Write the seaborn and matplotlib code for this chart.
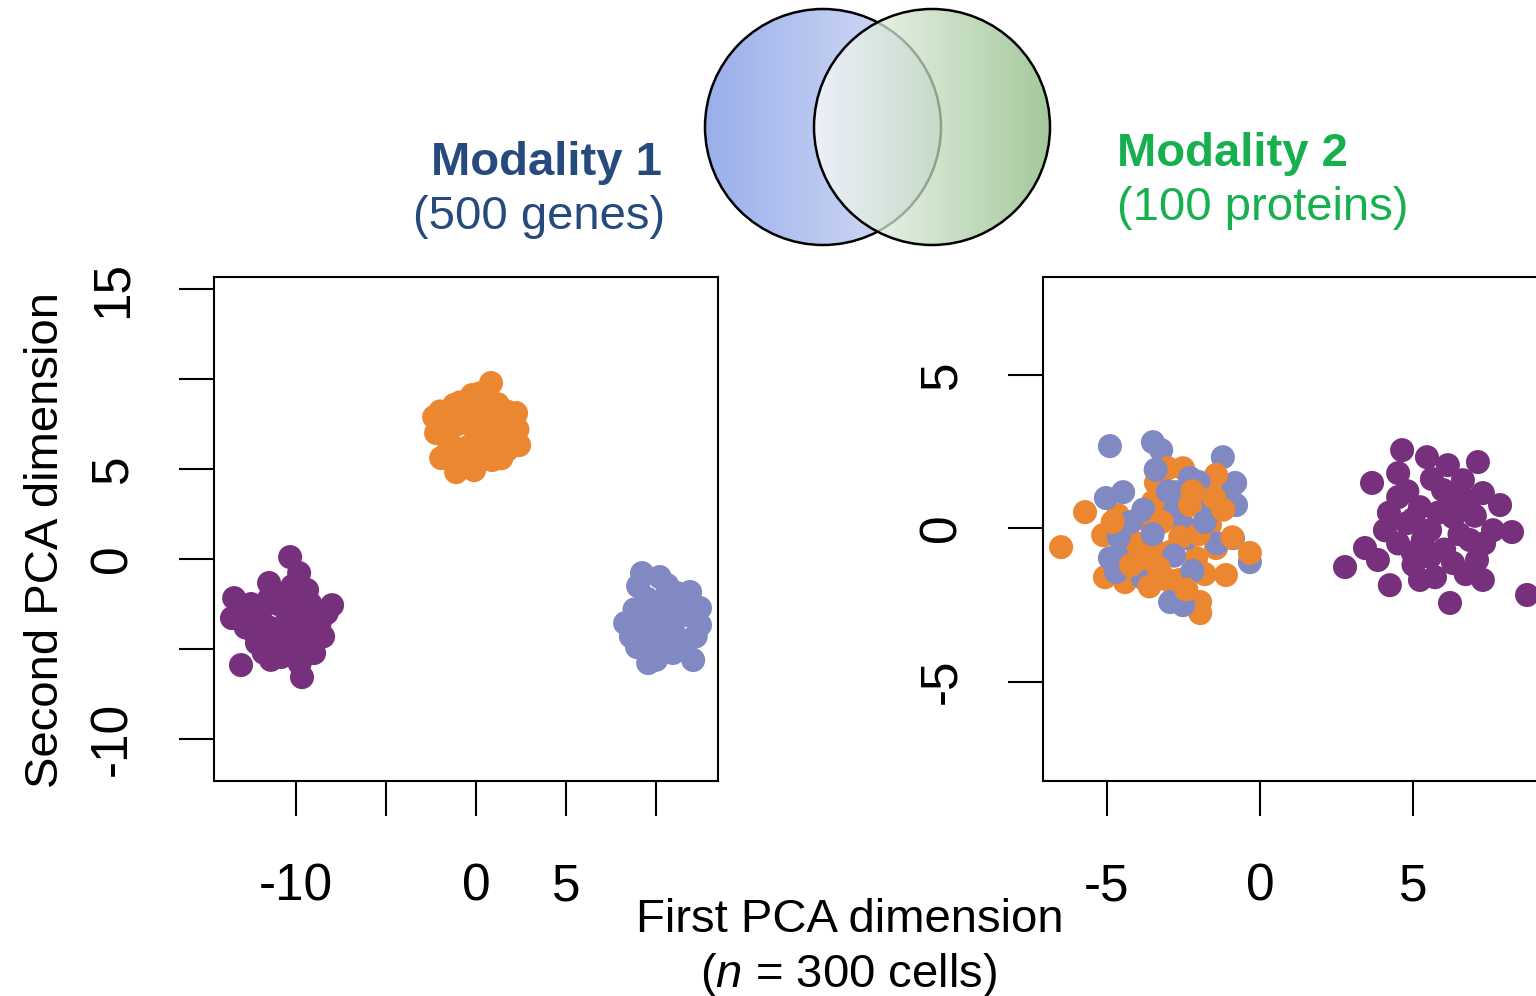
import numpy as np
import pandas as pd
import matplotlib
matplotlib.use("Agg")
import matplotlib.pyplot as plt
import seaborn as sns
from matplotlib.patches import Circle
from matplotlib.colors import to_rgb

# ---------------- data ----------------
# Modality 1 (500 genes) – first / second PCA dimension
m1_purple_x = [-10.33, -9.83, -11.5, -13.44, -13.56, -8.0, -13.06, -9.67, -10.83, -9.0, -12.17, -9.39,
               -11.0, -10.0, -11.5, -10.5, -9.5, -12.0, -10.8, -9.2, -8.7, -12.5, -11.2, -10.0, -8.5,
               -10.2, -12.8, -9.8, -11.8,
               -11.5, -12.6, -11.0, -9.2, -10.4, -10.6, -11.8, -9.6, -8.3, -12.3, -10.0, -11.4, -9.3, -13.0]
m1_purple_y = [0.11, -0.78, -1.33, -2.17, -3.28, -2.56, -5.89, -6.56, -5.44, -5.22, -4.67, -1.72,
               -2.5, -3.0, -3.8, -4.2, -3.5, -3.0, -2.0, -2.5, -3.6, -2.5, -4.8, -4.8, -4.3,
               -1.5, -3.8, -5.8, -5.2,
               -2.2, -3.3, -4.2, -4.0, -5.3, -3.6, -4.2, -2.9, -3.0, -4.1, -2.0, -5.6, -5.0, -2.9]
m1_orange_x = [0.83, -0.22, -1.22, -2.33, 2.22, -2.22, 2.39, -1.94, -1.11, -0.11, 0.89, 1.72,
               0.0, -1.0, 1.0, -0.5, 0.5, 1.5, -1.5, 0.3, -0.8, 1.2, -0.3, 0.8, 2.0,
               -1.8, -0.9, 0.2, 1.7, 2.3, 1.4, -0.6, -1.6, 0.0, -2.0, 1.0, -0.2]
m1_orange_y = [9.78, 9.11, 8.56, 7.89, 8.11, 7.0, 6.33, 5.61, 4.83, 4.94, 5.5, 6.06,
               7.0, 7.5, 7.5, 6.2, 6.5, 7.0, 6.5, 8.3, 8.0, 8.6, 5.8, 6.0, 7.2,
               7.2, 8.7, 9.2, 8.2, 7.2, 5.6, 5.2, 5.9, 6.0, 8.2, 6.8, 7.6]
m1_blue_x = [9.22, 10.61, 11.89, 12.44, 8.28, 12.44, 8.94, 9.56, 12.06, 10.94,
             10.0, 11.0, 9.5, 11.5, 10.3, 9.2, 11.8, 10.5, 9.8, 11.2, 8.8,
             9.0, 10.2, 12.0, 11.4, 10.0, 8.6, 9.7, 10.9, 12.2, 11.0, 9.4, 10.5]
m1_blue_y = [-0.78, -1.44, -1.83, -2.72, -3.56, -3.67, -4.89, -5.78, -5.61, -5.22,
             -3.0, -3.5, -2.2, -2.8, -4.3, -3.8, -4.5, -2.2, -4.8, -1.9, -2.8,
             -1.5, -1.0, -3.2, -5.0, -5.6, -4.3, -3.2, -4.1, -4.3, -2.7, -4.5, -3.7]

# Modality 2 (100 proteins)
m2_blue_x = [-4.89, -3.49, -3.22, -1.21, -0.81, -0.78, -0.88, -0.33, -5.02, -4.46, -4.23, -4.89,
             -4.69, -3.81, -2.93, -2.51, -2.28, -2.74, -2.93, -2.08, -2.51, -2.41, -1.63, -4.46,
             -3.8, -3.0, -2.0, -4.2, -1.4, -2.8, -3.5, -1.8, -4.6, -1.0, -2.2, -3.4]
m2_blue_y = [2.67, 2.80, 2.54, 2.31, 1.47, 0.75, -0.33, -1.11, 0.98, 1.17, -0.55, -0.98,
             -1.43, -1.63, -2.41, -2.51, 1.63, 1.17, 0.65, 0.85, 0.10, -0.33, 0.52, -0.78,
             0.6, 1.2, 1.5, 0.2, -0.5, -0.9, -0.2, 0.2, -0.3, 1.1, -1.4, 1.9]
m2_orange_x = [-5.70, -6.48, -5.11, -3.39, -3.0, -2.51, -1.43, -4.63, -3.91, -5.05, -4.40, -3.0,
               -2.61, -1.95, -1.95, -1.11, -0.33, -3.49, -2.93, -2.08, -1.43, -1.63, -3.49, -2.28,
               -4.36, -3.81,
               -4.0, -3.2, -2.6, -2.0, -1.8, -3.3, -4.8, -2.2, -1.2, -0.9, -3.6, -2.4, -4.2, -1.5]
m2_orange_y = [0.52, -0.62, -0.23, 1.47, 1.95, 1.95, 1.73, 0.42, 0.33, -1.60, -1.76, -1.69,
               -1.69, -2.41, -2.77, -1.53, -0.81, -0.65, -0.78, -0.98, -0.65, 0.10, 0.85, 0.75,
               -0.23, -0.98,
               -0.5, 0.2, -0.3, -0.2, -1.5, -1.3, 0.2, 1.2, 0.6, -0.3, -1.9, -2.0, -1.2, 1.0]
m2_purple_x = [4.63, 5.44, 6.12, 7.10, 3.65, 4.50, 6.61, 7.26, 7.82, 8.21, 4.50, 4.07, 3.42, 2.77,
               3.84, 4.23, 5.21, 6.19, 5.70, 7.26, 7.07, 8.70, 4.98, 5.54, 6.29, 5.21, 5.96, 6.84,
               7.59, 4.79, 5.54, 6.29,
               5.0, 5.8, 6.5, 7.0, 6.0, 5.3, 4.5, 6.8, 5.6, 4.8, 7.3, 6.3, 5.0, 6.7, 4.2]
m2_purple_y = [2.54, 2.31, 2.05, 2.15, 1.47, 1.79, 1.56, 1.14, 0.75, -0.13, 1.01, -0.07, -0.65,
               -1.27, -1.04, -1.86, -1.69, -2.44, -1.60, -1.69, -1.04, -2.18, -0.81, -0.07, 0.36,
               0.68, 1.24, -0.39, -0.07, 0.16, -0.94, -1.14,
               0.3, 0.5, -0.2, 0.4, -0.7, -0.4, -0.5, 0.9, 1.6, 1.2, -0.5, 1.0, -1.2, -1.5, 0.5]

palette = {"A": "#77317C", "B": "#EC8731", "C": "#8189C2"}

left_ticks = [-10, -5, 0, 5, 10]
left_tick_labels = ["-10", "", "0", "5", ""]
left_yticks = [-10, -5, 0, 5, 10, 15]
left_ytick_labels = ["-10", "", "0", "5", "", "15"]
right_ticks = [-5, 0, 5]
right_tick_labels = ["-5", "0", "5"]
right_yticks = [-5, 0, 5]
right_ytick_labels = ["-5", "0", "5"]

# ---------------- tables ----------------
df1 = pd.concat([
    pd.DataFrame({"x": m1_purple_x, "y": m1_purple_y, "g": "A"}),
    pd.DataFrame({"x": m1_orange_x, "y": m1_orange_y, "g": "B"}),
    pd.DataFrame({"x": m1_blue_x, "y": m1_blue_y, "g": "C"}),
], ignore_index=True)

rows = []
nb, no = len(m2_blue_x), len(m2_orange_x)
for i in range(max(nb, no)):
    if i < nb:
        rows.append((m2_blue_x[i], m2_blue_y[i], "C"))
    if i < no:
        rows.append((m2_orange_x[i], m2_orange_y[i], "B"))
df2 = pd.concat([
    pd.DataFrame({"x": m2_purple_x, "y": m2_purple_y, "g": "A"}),
    pd.DataFrame(rows, columns=["x", "y", "g"]),
], ignore_index=True)

# ---------------- style ----------------
sns.set_theme(style="white")
plt.rcParams["font.family"] = ["Liberation Sans", "DejaVu Sans"]
plt.rcParams["mathtext.fontset"] = "custom"
plt.rcParams["mathtext.it"] = "Liberation Sans:italic"
plt.rcParams["mathtext.rm"] = "Liberation Sans"

W, H = 1536, 996
fig = plt.figure(figsize=(W / 100, H / 100), dpi=100)
fig.patch.set_facecolor("white")


def fx(px):
    return px / W


def fy(py):
    return 1 - py / H


aw, ah = (718 - 214) / W, (781 - 277) / H
ax1 = fig.add_axes([fx(214), fy(781), aw, ah])
ax2 = fig.add_axes([fx(1043), fy(781), aw, ah])

TICK_FS = 37
for ax, df in ((ax1, df1), (ax2, df2)):
    sns.scatterplot(data=df, x="x", y="y", hue="g", palette=palette, s=300,
                    linewidth=0, legend=False, ax=ax, clip_on=True)
    ax.set_xlabel("")
    ax.set_ylabel("")
    for sp in ax.spines.values():
        sp.set_visible(True)
        sp.set_color("black")
        sp.set_linewidth(1.5)
    ax.tick_params(axis="both", direction="out", length=25, width=1.5, color="black",
                   labelsize=TICK_FS, labelcolor="black", bottom=True, left=True)
    ax.tick_params(axis="x", pad=34)
    ax.tick_params(axis="y", pad=30)

ax1.set_xlim(-14.56, 13.44)
ax1.set_ylim(-12.33, 15.67)
ax1.set_xticks(left_ticks)
ax1.set_xticklabels(left_tick_labels)
ax1.set_yticks(left_yticks)
ax1.set_yticklabels(left_ytick_labels)

ax2.set_xlim(-7.07, 9.35)
ax2.set_ylim(-8.24, 8.18)
ax2.set_xticks(right_ticks)
ax2.set_xticklabels(right_tick_labels)
ax2.set_yticks(right_yticks)
ax2.set_yticklabels(right_ytick_labels)

for ax in (ax1, ax2):
    for lab in ax.get_yticklabels():
        lab.set_rotation(90)
        lab.set_va("center")
        lab.set_ha("right")

# ---------------- Venn diagram ----------------
axv = fig.add_axes([0, 0, 1, 1])
axv.patch.set_alpha(0)
axv.set_axis_off()


def grad(c1, c2, n=256):
    a = np.linspace(0, 1, n)[None, :, None]
    return (1 - a) * np.array(to_rgb(c1)) + a * np.array(to_rgb(c2))


R = 118
c1 = (823, H - 127)
c2 = (932, H - 127)
circ1 = Circle(c1, R, transform=axv.transData, facecolor="none", edgecolor="black", lw=1.8, zorder=2)
circ2 = Circle(c2, R, transform=axv.transData, facecolor="none", edgecolor="black", lw=1.8, zorder=4)
im1 = axv.imshow(grad("#9AAEEA", "#DDE4F8"), extent=[c1[0] - R, c1[0] + R, c1[1] - R, c1[1] + R],
                 aspect="auto", interpolation="bilinear", zorder=1)
im1.set_clip_path(circ1)
axv.add_patch(circ1)
im2 = axv.imshow(grad("#FFFFFF", "#86B77B"), extent=[c2[0] - R, c2[0] + R, c2[1] - R, c2[1] + R],
                 aspect="auto", interpolation="bilinear", zorder=3, alpha=0.75)
im2.set_clip_path(circ2)
axv.add_patch(circ2)
axv.set_xlim(0, W)
axv.set_ylim(0, H)

# ---------------- texts ----------------
blue_txt = "#264A7D"
green_txt = "#17B04F"
fig.text(fx(662), fy(175), "Modality 1", ha="right", va="baseline", fontsize=34,
         fontweight="bold", color=blue_txt)
fig.text(fx(665), fy(229), "(500 genes)", ha="right", va="baseline", fontsize=34, color=blue_txt)
fig.text(fx(1117), fy(166), "Modality 2", ha="left", va="baseline", fontsize=34,
         fontweight="bold", color=green_txt)
fig.text(fx(1117), fy(220), "(100 proteins)", ha="left", va="baseline", fontsize=34, color=green_txt)

fig.text(fx(850), fy(932), "First PCA dimension", ha="center", va="baseline", fontsize=34, color="black")
fig.text(fx(849), fy(987), r"($\mathit{n}$ = 300 cells)", ha="center", va="baseline", fontsize=34,
         color="black")
fig.text(fx(46), fy(540), "Second PCA dimension", ha="center", va="center", rotation=90,
         fontsize=34, color="black")

fig.savefig("out.png", dpi=100, facecolor="white")
